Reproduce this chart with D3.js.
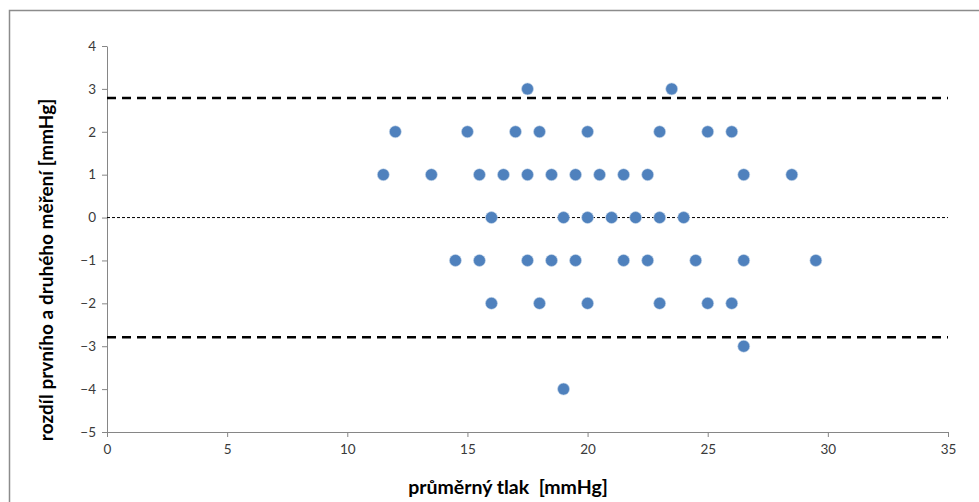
<!DOCTYPE html>
<meta charset="utf-8">
<title>Bland-Altman</title>
<style>
body { margin: 0; background: #fff; }
svg { display: block; font-family: Lato, "Open Sans", sans-serif; }
.axis path, .axis line { stroke: #868686; }
.axis text { fill: #3a3a3a; font-size: 13.5px; font-family: Lato, sans-serif; }
</style>
<svg width="979" height="502"></svg>
<script src="https://d3js.org/d3.v7.min.js"></script>
<script>
// průměrný tlak (x) a rozdíl měření (y)
var meanPressure = [
  17.5, 23.5,
  12, 15, 17, 18, 20, 23, 25, 26,
  11.5, 13.5, 15.5, 16.5, 17.5, 18.5, 19.5, 20.5, 21.5, 22.5, 26.5, 28.5,
  16, 19, 20, 21, 22, 23, 24,
  14.5, 15.5, 17.5, 18.5, 19.5, 21.5, 22.5, 24.5, 26.5, 29.5,
  16, 18, 20, 23, 25, 26,
  26.5,
  19
];
var difference = [
  3, 3,
  2, 2, 2, 2, 2, 2, 2, 2,
  1, 1, 1, 1, 1, 1, 1, 1, 1, 1, 1, 1,
  0, 0, 0, 0, 0, 0, 0,
  -1, -1, -1, -1, -1, -1, -1, -1, -1, -1,
  -2, -2, -2, -2, -2, -2,
  -3,
  -4
];
var meanDiff = 0;
var upperLimit = 2.79;
var lowerLimit = -2.79;
var xTicks = [0, 5, 10, 15, 20, 25, 30, 35];
var yTicks = [4, 3, 2, 1, 0, -1, -2, -3, -4, -5];

var svg = d3.select("svg"),
    margin = {top: 46, right: 31, bottom: 70, left: 107},
    width = +svg.attr("width") - margin.left - margin.right,
    height = +svg.attr("height") - margin.top - margin.bottom;

// ramecek grafu
svg.append("rect")
  .attr("x", 9.5).attr("y", 10.5)
  .attr("width", 1000).attr("height", 600)
  .attr("fill", "none")
  .attr("stroke", "#8c8c8c")
  .attr("stroke-width", 1.5);

var g = svg.append("g").attr("transform", "translate(" + margin.left + "," + margin.top + ")");

var x = d3.scaleLinear().domain([0, 35]).range([0, width]);
var y = d3.scaleLinear().domain([-5, 4]).range([height, 0]);

g.append("g")
  .attr("class", "axis")
  .attr("transform", "translate(0," + height + ")")
  .call(d3.axisBottom(x).tickValues(xTicks).tickSize(5).tickSizeOuter(0).tickPadding(5))
  .selectAll("text").attr("dy", "0.9em");

g.append("g")
  .attr("class", "axis")
  .call(d3.axisLeft(y).tickValues(yTicks).tickSize(5).tickSizeOuter(0).tickPadding(6));

// limity shody
var lines = [
  {v: upperLimit, w: 2.5, dash: "9,6"},
  {v: lowerLimit, w: 2.5, dash: "9,6"},
  {v: meanDiff, w: 1, dash: "3,2"}
];
g.selectAll(".limit")
  .data(lines)
  .enter().append("line")
  .attr("class", "limit")
  .attr("x1", 0).attr("x2", width)
  .attr("y1", function(d) { return y(d.v); })
  .attr("y2", function(d) { return y(d.v); })
  .attr("stroke", "#000")
  .attr("stroke-width", function(d) { return d.w; })
  .attr("stroke-dasharray", function(d) { return d.dash; });

g.selectAll("circle")
  .data(meanPressure.map(function(m, i) { return [m, difference[i]]; }))
  .enter().append("circle")
  .attr("cx", function(d) { return x(d[0]); })
  .attr("cy", function(d) { return y(d[1]); })
  .attr("r", 6)
  .attr("fill", "#4F81BD")
  .attr("stroke", "#c6d6ea")
  .attr("stroke-width", 0.6);

svg.append("text")
  .attr("x", 508).attr("y", 494)
  .attr("text-anchor", "middle")
  .attr("font-weight", "bold")
  .attr("font-size", 19.5)
  .attr("fill", "#000")
  .attr("xml:space", "preserve")
  .text("průměrný tlak  [mmHg]");

svg.append("text")
  .attr("transform", "translate(53,270) rotate(-90)")
  .attr("text-anchor", "middle")
  .attr("font-weight", "bold")
  .attr("font-size", 19)
  .attr("fill", "#000")
  .text("rozdíl prvního a druhého měření [mmHg]");
</script>
